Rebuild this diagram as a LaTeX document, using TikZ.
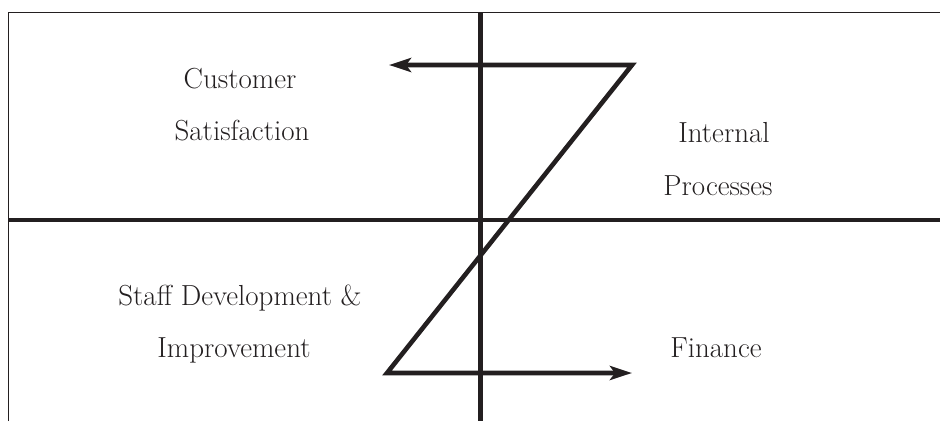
\documentclass[tikz,border=0pt]{standalone}
\usetikzlibrary{arrows.meta}
\definecolor{ink}{HTML}{231F20}
\begin{document}
\begin{tikzpicture}[x=1pt,y=-1pt,
  frame/.style={draw=ink,line width=1.7pt},
  axis/.style={draw=ink,line width=4.8pt},
  zpath/.style={draw=ink,line width=4.6pt,miter limit=20,
    arrows={Stealth[length=22pt,width=14pt,inset=5pt]-Stealth[length=22pt,width=14pt,inset=5pt]}},
  lbl/.style={anchor=base,text=ink,font=\fontsize{29}{32}\selectfont,inner sep=0pt}]
\useasboundingbox (0,0) rectangle (940,421);
% frame
\coordinate (fTL) at (8.5,12.5);
\coordinate (fTR) at (940,12.5);
\coordinate (fBL) at (8.5,421);
\draw[frame] (fBL) -- (fTL) -- (fTR);
% axes
\coordinate (vT) at (480.5,12);
\coordinate (vB) at (480.5,421);
\coordinate (hL) at (8.5,220);
\coordinate (hR) at (940,220);
\draw[axis] (vT) -- (vB);
\draw[axis] (hL) -- (hR);
% Z path
\coordinate (zTip1) at (389,65);
\coordinate (zTR) at (632,65);
\coordinate (zBL) at (387,373);
\coordinate (zTip2) at (632,373);
\draw[zpath] (zTip1) -- (zTR) -- (zBL) -- (zTip2);
% labels
\node[lbl] (cust) at (240,88) {Customer};
\node[lbl] (sat) at (242,140) {Satisfaction};
\node[lbl] (int) at (724,142) {Internal};
\node[lbl] (proc) at (718,195) {Processes};
\node[lbl] (staff) at (240,305) {Staff Development \&};
\node[lbl] (impr) at (234,357) {Improvement};
\node[lbl] (fin) at (716,357) {Finance};
\end{tikzpicture}
\end{document}
